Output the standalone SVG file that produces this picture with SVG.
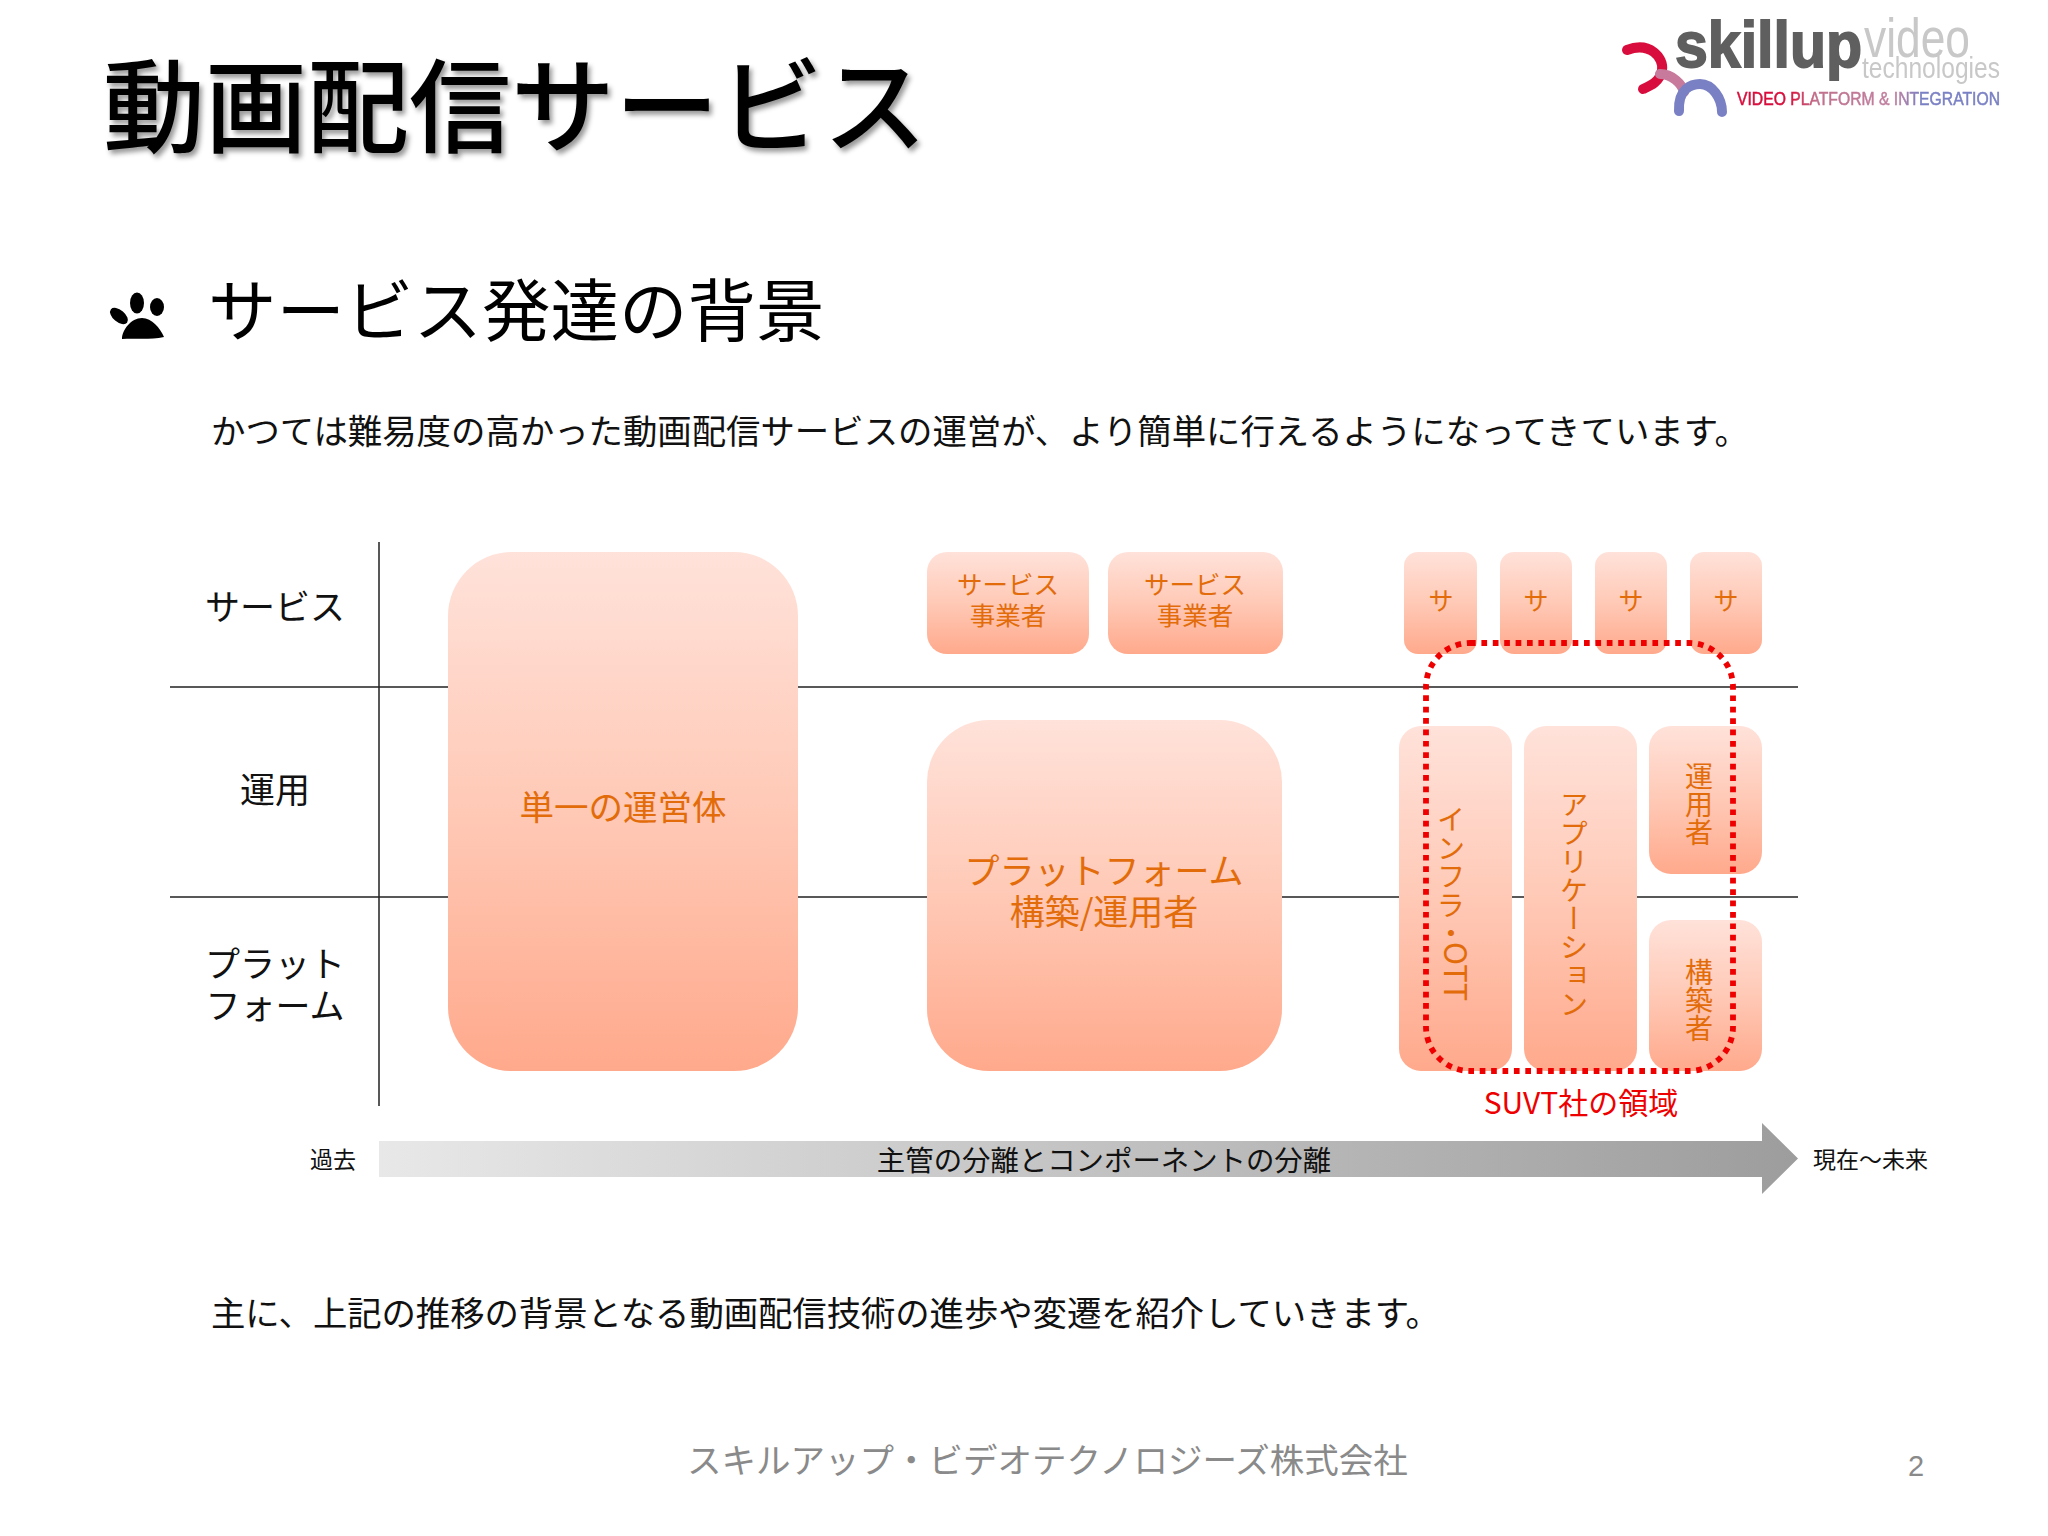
<svg xmlns="http://www.w3.org/2000/svg" width="2048" height="1536" viewBox="0 0 2048 1536">
<style>
text{font-family:"Noto Sans CJK JP","Noto Sans",sans-serif;}
.l{font-family:"Liberation Sans","Noto Sans CJK JP",sans-serif;}
.k{font-size:34.4px;fill:#111;font-weight:400}
.c{text-anchor:middle}
.o{fill:#E36C0A;text-anchor:middle;font-weight:400}
.v{writing-mode:vertical-rl;fill:#E36C0A;font-weight:400}
.b{fill:url(#boxg)}
.ln{stroke:#222;stroke-width:1.5;fill:none}
</style>
<defs>
<linearGradient id="boxg" x1="0" y1="0" x2="0" y2="1"><stop offset="0" stop-color="#FFE2DA"/><stop offset="0.5" stop-color="#FFC9B6"/><stop offset="1" stop-color="#FFA98C"/></linearGradient>
<linearGradient id="arrowg" gradientUnits="userSpaceOnUse" x1="379" y1="0" x2="1798" y2="0"><stop offset="0" stop-color="#E8E8E8"/><stop offset="1" stop-color="#9D9D9D"/></linearGradient>
<linearGradient id="logog" gradientUnits="userSpaceOnUse" x1="1737" y1="0" x2="2000" y2="0"><stop offset="0" stop-color="#D8103C"/><stop offset="0.2" stop-color="#D8103C"/><stop offset="0.3" stop-color="#C0708C"/><stop offset="0.6" stop-color="#C080A0"/><stop offset="0.7" stop-color="#7A80C4"/><stop offset="1" stop-color="#7A80C4"/></linearGradient>
<filter id="shadow" x="-5%" y="-10%" width="110%" height="125%"><feDropShadow dx="3" dy="4" stdDeviation="2.5" flood-color="#000" flood-opacity="0.4"/></filter>
<filter id="soft" x="-2%" y="-5%" width="104%" height="110%"><feGaussianBlur stdDeviation="0.6"/></filter>
</defs>
<rect width="2048" height="1536" fill="#fff"/>

<g id="header">
<text x="103" y="145" font-size="102" fill="#000" font-weight="500" filter="url(#shadow)">動画配信<tspan font-size="104">サービス</tspan></text>
<g id="paw" fill="#000" filter="url(#soft)">
<ellipse cx="119" cy="316" rx="10.500" ry="6" transform="rotate(40 119 316)"/>
<ellipse cx="137" cy="303" rx="7" ry="10.500"/>
<ellipse cx="157" cy="307" rx="7" ry="9"/>
<path d="M122 339 C122 330 131 318 142 318 C152 318 160 328 164 337 C150 340 135 338 122 339 Z"/>
</g>
<text x="208" y="336" font-size="68.500" fill="#000" font-weight="400">サービス発達の背景</text>
<text class="k" x="211" y="444" textLength="1538">かつては難易度の高かった動画配信サービスの運営が、より簡単に行えるようになってきています。</text>
</g>

<g id="logo" filter="url(#soft)">
<g fill="none" stroke-linecap="round" stroke-width="10">
<path d="M1627 50 C1650 41 1664 58 1662 70 C1660 82 1650 86 1643 89" stroke="#D8103C"/>
<path d="M1660 74 C1672 74 1682 84 1684 92" stroke="#C87A9C"/>
<path d="M1679 111 C1678 88 1692 84 1700 84 C1712 84 1722 98 1722 112" stroke="#7A80C4"/>
</g>
<text class="l" x="1675" y="67" font-size="64" font-weight="700" fill="#5f5f5f" stroke="#5f5f5f" stroke-width="1.800" textLength="187" lengthAdjust="spacingAndGlyphs">skillup</text>
<text class="l" x="1864" y="57" font-size="56" fill="#c8c8c8" textLength="106" lengthAdjust="spacingAndGlyphs">video</text>
<text class="l" x="1862" y="78" font-size="30" fill="#c8c8c8" textLength="138" lengthAdjust="spacingAndGlyphs">technologies</text>
<text class="l" x="1737" y="105" font-size="17.500" fill="url(#logog)" stroke="url(#logog)" stroke-width="0.500" textLength="263" lengthAdjust="spacingAndGlyphs">VIDEO PLATFORM &amp; INTEGRATION</text>
</g>

<g id="connectors">
<path class="ln" d="M170 687H1798M170 897H1798M379 542V1106"/>
</g>

<g id="row-labels">
<text class="c k" style="font-size:35px" x="275" y="620">サービス</text>
<text class="c k" style="font-size:35px" x="275" y="803">運用</text>
<text class="c k" style="font-size:35px" x="275" y="977">プラット</text>
<text class="c k" style="font-size:35px" x="275" y="1019">フォーム</text>
</g>

<g id="single"><rect class="b" x="448" y="552" width="350" height="519" rx="64"/><text class="o" x="623" y="820" font-size="34.500">単一の運営体</text></g>
<g id="svc1"><rect class="b" x="927" y="552" width="162" height="102" rx="20"/><text class="o" x="1008" y="594" font-size="25.500">サービス</text><text class="o" x="1008" y="625" font-size="25.500">事業者</text></g>
<g id="svc2"><rect class="b" x="1108" y="552" width="175" height="102" rx="20"/><text class="o" x="1195" y="594" font-size="25.500">サービス</text><text class="o" x="1195" y="625" font-size="25.500">事業者</text></g>
<g id="platform"><rect class="b" x="927" y="720" width="355" height="351" rx="62"/><text class="o" x="1104" y="884" font-size="35">プラットフォーム</text><text class="o" x="1104" y="925" font-size="35">構築/運用者</text></g>
<g id="s1"><rect class="b" x="1404" y="552" width="73" height="102" rx="14"/><text class="o" x="1441" y="610" font-size="25">サ</text></g>
<g id="s2"><rect class="b" x="1500" y="552" width="72" height="102" rx="14"/><text class="o" x="1536" y="610" font-size="25">サ</text></g>
<g id="s3"><rect class="b" x="1595" y="552" width="72" height="102" rx="14"/><text class="o" x="1631" y="610" font-size="25">サ</text></g>
<g id="s4"><rect class="b" x="1690" y="552" width="72" height="102" rx="14"/><text class="o" x="1726" y="610" font-size="25">サ</text></g>
<g id="infra"><rect class="b" x="1399" y="726" width="113" height="345" rx="22"/><text class="v" x="1451" y="805" font-size="28.500">インフラ・<tspan dx="6" dy="-6" font-size="31">OTT</tspan></text></g>
<g id="app"><rect class="b" x="1524" y="726" width="113" height="345" rx="22"/><text class="v" x="1574" y="790" font-size="28.500">アプリケーション</text></g>
<g id="op"><rect class="b" x="1649" y="726" width="113" height="148" rx="22"/><text class="v" x="1699" y="762" font-size="28">運用者</text></g>
<g id="build"><rect class="b" x="1649" y="920" width="113" height="151" rx="22"/><text class="v" x="1699" y="958" font-size="28">構築者</text></g>

<g id="suvt">
<rect x="1426" y="643" width="307" height="428" rx="44" fill="none" stroke="#EE0000" stroke-width="5.800" stroke-dasharray="5.700 5.700"/>
<text x="1581" y="1114" font-size="30" fill="#EE0000" text-anchor="middle" font-weight="400">SUVT社の領域</text>
</g>

<g id="timeline">
<path d="M379 1141H1762V1123L1798 1158.500L1762 1194V1177H379Z" fill="url(#arrowg)"/>
<text class="c" x="1104" y="1171" font-size="28.400" fill="#111" font-weight="400">主管の分離とコンポーネントの分離</text>
<text class="c" x="333" y="1168" font-size="23" fill="#111" font-weight="400">過去</text>
<text x="1813" y="1168" font-size="23" fill="#111" font-weight="400">現在～未来</text>
</g>

<text id="closing" class="k" x="211" y="1326" textLength="1229">主に、上記の推移の背景となる動画配信技術の進歩や変遷を紹介していきます。</text>

<g id="footer">
<text x="687" y="1473" font-size="34.500" fill="#8a8a8a" font-weight="400">スキルアップ・ビデオテクノロジーズ株式会社</text>
<text class="l" x="1908" y="1476" font-size="29" fill="#8a8a8a">2</text>
</g>
</svg>
